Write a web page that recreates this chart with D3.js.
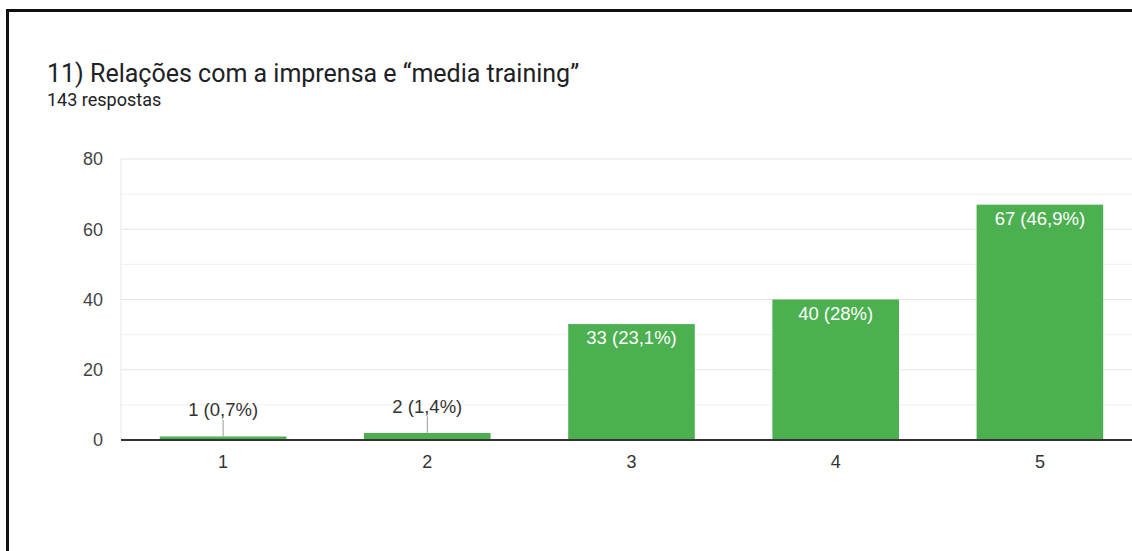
<!DOCTYPE html>
<html>
<head>
<meta charset="utf-8">
<script src="https://cdn.jsdelivr.net/npm/d3@7"></script>
<style>
  html, body { margin: 0; padding: 0; background: #fff; overflow: hidden; }
  svg { display: block; }
</style>
</head>
<body>
<svg id="chart" width="1132" height="551"></svg>
<script>
// Survey answers on a 1–5 scale
const categories = ["1", "2", "3", "4", "5"];
const counts = [1, 2, 33, 40, 67];
const percents = ["0,7%", "1,4%", "23,1%", "28%", "46,9%"];
const yTicks = [0, 20, 40, 60, 80];
const gridValues = [10, 20, 30, 40, 50, 60, 70, 80];
const title = "11) Relações com a imprensa e “media training”";
const subtitle = "143 respostas";

const headFont = "Roboto, 'Noto Sans', Arial, sans-serif";
const chartFont = "'Liberation Sans', Arial, Helvetica, sans-serif";

const svg = d3.select("#chart");

// Card frame (only its left and top edges fall inside the view)
svg.append("rect").attr("x", 7.5).attr("y", 10.5).attr("width", 1200).attr("height", 600)
  .attr("fill", "#fff").attr("stroke", "#111").attr("stroke-width", 3);

svg.append("text").attr("x", 47).attr("y", 82)
  .attr("font-family", headFont).attr("font-size", 25).attr("fill", "#202124").text(title);
svg.append("text").attr("x", 47).attr("y", 106)
  .attr("font-family", headFont).attr("font-size", 18).attr("fill", "#202124").text(subtitle);

const plot = { left: 121, right: 1142, top: 159, bottom: 440 };

const x = d3.scaleBand().domain(categories)
  .range([plot.left, plot.right]).paddingInner(0.38).paddingOuter(0.19);
const y = d3.scaleLinear().domain([0, 80]).range([plot.bottom, plot.top]);

// Horizontal gridlines
svg.append("g").selectAll("line").data(gridValues).join("line")
  .attr("x1", plot.left).attr("x2", 1132)
  .attr("y1", d => y(d)).attr("y2", d => y(d))
  .attr("stroke", d => d % 20 === 0 ? "#e6e6e6" : "#f3f3f3")
  .attr("stroke-width", 1.2);

// Left edge of the plot
svg.append("line").attr("x1", plot.left).attr("x2", plot.left)
  .attr("y1", plot.top).attr("y2", plot.bottom)
  .attr("stroke", "#ececec").attr("stroke-width", 1.2);

// Y axis labels
const yAxis = d3.axisLeft(y).tickValues(yTicks).tickSize(0).tickPadding(18);
svg.append("g").attr("transform", `translate(${plot.left},0)`).call(yAxis)
  .call(g => g.select(".domain").remove())
  .call(g => g.selectAll("text").attr("font-size", 18).attr("fill", "#444")
    .attr("font-family", chartFont));

// Bars
const rows = categories.map((c, i) => ({ c, v: counts[i], p: percents[i] }));
svg.append("g").selectAll("rect").data(rows).join("rect")
  .attr("x", d => x(d.c)).attr("width", x.bandwidth())
  .attr("y", d => y(d.v)).attr("height", d => y(0) - y(d.v))
  .attr("fill", "#4caf50");

// Baseline
svg.append("line").attr("x1", plot.left).attr("x2", 1132)
  .attr("y1", y(0)).attr("y2", y(0))
  .attr("stroke", "#333").attr("stroke-width", 2);

// X axis labels
const xAxis = d3.axisBottom(x).tickSize(0).tickPadding(15);
svg.append("g").attr("transform", `translate(0,${plot.bottom})`).call(xAxis)
  .call(g => g.select(".domain").remove())
  .call(g => g.selectAll("text").attr("font-size", 18).attr("fill", "#333")
    .attr("font-family", chartFont));

// Value labels: inside tall bars, above short bars with a leader line
const inside = d => y(0) - y(d.v) > 30;
const labels = svg.append("g").attr("font-family", chartFont);
rows.forEach(d => {
  const cx = x(d.c) + x.bandwidth() / 2;
  const top = y(d.v);
  const txt = `${d.v} (${d.p})`;
  if (inside(d)) {
    labels.append("text").attr("x", cx).attr("y", top + 20)
      .attr("text-anchor", "middle").attr("font-size", 18.5)
      .attr("fill", "#fff").text(txt);
  } else {
    labels.append("line").attr("x1", cx).attr("x2", cx)
      .attr("y1", top).attr("y2", top - 16.5)
      .attr("stroke", "#999").attr("stroke-width", 1);
    labels.append("text").attr("x", cx).attr("y", top - 20)
      .attr("text-anchor", "middle").attr("font-size", 18.5)
      .attr("fill", "#333").text(txt);
  }
});
</script>
</body>
</html>
